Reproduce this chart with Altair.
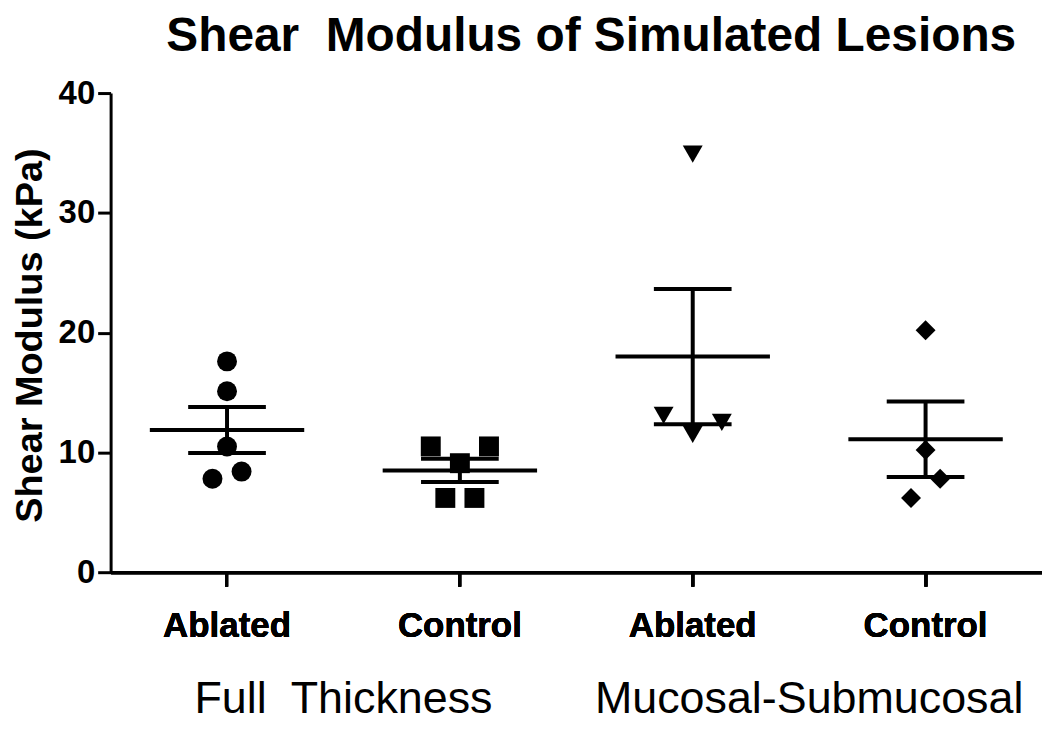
import altair as alt
import pandas as pd

# ---- data ----
series = ["Ablated|FT", "Control|FT", "Ablated|MS", "Control|MS"]
groups = ["Full\u00a0 Thickness", "Mucosal-Submucosal"]
shapes = ["circle", "square", "triangle-down", "diamond"]

ablated_ft = [17.6, 15.1, 10.5, 7.8, 8.4]
ablated_ft_spread = [0, 0, 0, -1, 1]
control_ft = [10.5, 10.5, 9.1, 6.2, 6.2]
control_ft_spread = [-2, 2, 0, -1, 1]
ablated_ms = [34.9, 13.1, 11.5, 12.5]
ablated_ms_spread = [0, -2, 0, 2]
control_ms = [20.2, 10.2, 7.8, 6.2]
control_ms_spread = [0, 0, 1, -1]

rows = []
for s, vals, spr in zip(series,
                        [ablated_ft, control_ft, ablated_ms, control_ms],
                        [ablated_ft_spread, control_ft_spread, ablated_ms_spread, control_ms_spread]):
    for v, d in zip(vals, spr):
        rows.append({"Series": s, "Value": v, "Spread": d})
df = pd.DataFrame(rows)
gdf = pd.DataFrame({"Group": groups})

FONT = "Liberation Sans"
YTITLE = "Shear Modulus (kPa)"

x_enc = alt.X(
    "Series:N", sort=series,
    scale=alt.Scale(type="band", domain=series, paddingInner=0, paddingOuter=0),
    axis=alt.Axis(orient="bottom", title=None, labelExpr="split(datum.label, '|')[0]",
                  domainWidth=3, domainColor="black", tickWidth=3, tickColor="black",
                  tickSize=14, labelFontSize=35, labelFontWeight="bold", labelColor="black",
                  labelPadding=51, labelBaseline="alphabetic", labelAngle=0, labelFont=FONT,
                  labelLimit=0),
)
y_axis = alt.Axis(values=[0, 10, 20, 30, 40], domainWidth=3, domainColor="black",
                  tickWidth=3, tickColor="black", tickSize=13, labelFontSize=33,
                  labelFontWeight="bold", labelColor="black", labelPadding=3, labelFont=FONT,
                  grid=False, titleFontSize=38, titleFontWeight="bold", titleColor="black",
                  titleFont=FONT, titleX=-80, titleY=243, titleAngle=270,
                  titleBaseline="middle", titleAlign="center", titleLimit=0)
y_scale = alt.Scale(domain=[0, 40], nice=False)

base = alt.Chart(df)

points = base.mark_point(filled=True, opacity=1, color="black", size=400, strokeWidth=0).encode(
    x=x_enc,
    xOffset=alt.XOffset("Spread:Q", scale=alt.Scale(domain=[-8, 8])),
    y=alt.Y("Value:Q", scale=y_scale, axis=y_axis, title=YTITLE),
    shape=alt.Shape("Series:N", scale=alt.Scale(domain=series, range=shapes), legend=None),
)

stats = base.transform_aggregate(
    mean="mean(Value)", se="stderr(Value)", groupby=["Series"]
).transform_calculate(lo="datum.mean - datum.se", hi="datum.mean + datum.se")

mean_tick = stats.mark_tick(color="black", size=155, thickness=4, opacity=1).encode(
    x=x_enc, y=alt.Y("mean:Q", scale=y_scale, axis=y_axis, title=YTITLE))
stem = stats.mark_rule(color="black", strokeWidth=4).encode(
    x=x_enc, y=alt.Y("lo:Q", scale=y_scale, axis=y_axis, title=YTITLE), y2="hi:Q")
cap_lo = stats.mark_tick(color="black", size=78, thickness=4, opacity=1).encode(
    x=x_enc, y=alt.Y("lo:Q", scale=y_scale, axis=y_axis, title=YTITLE))
cap_hi = stats.mark_tick(color="black", size=78, thickness=4, opacity=1).encode(
    x=x_enc, y=alt.Y("hi:Q", scale=y_scale, axis=y_axis, title=YTITLE))

group_axis = alt.Chart(gdf).mark_point(opacity=0).encode(
    x=alt.X("Group:N", sort=groups,
            scale=alt.Scale(type="band", domain=groups, paddingInner=0, paddingOuter=0),
            axis=alt.Axis(orient="bottom", title=None, domain=False, ticks=False, tickSize=0,
                          labelFontSize=45, labelFontWeight="normal", labelColor="black",
                          labelFont=FONT, labelPadding=141, labelBaseline="alphabetic",
                          labelAngle=0, labelLimit=0))
)

chart = alt.layer(points, stem, cap_lo, cap_hi, mean_tick, group_axis).resolve_scale(
    x="independent"
).properties(
    width=935, height=481,
    padding={"left": 103, "top": 84, "right": 0, "bottom": 151},
    autosize=alt.AutoSizeParams(type="none"),
    background="white",
    title=alt.TitleParams("Shear\u00a0 Modulus of Simulated Lesions", fontSize=48,
                          fontWeight="bold", font=FONT, color="black", anchor="middle",
                          dx=15, dy=-6, offset=10, limit=0),
).configure_view(stroke=None)

chart.save("out.html", embed_options={"renderer": "svg", "actions": False})
